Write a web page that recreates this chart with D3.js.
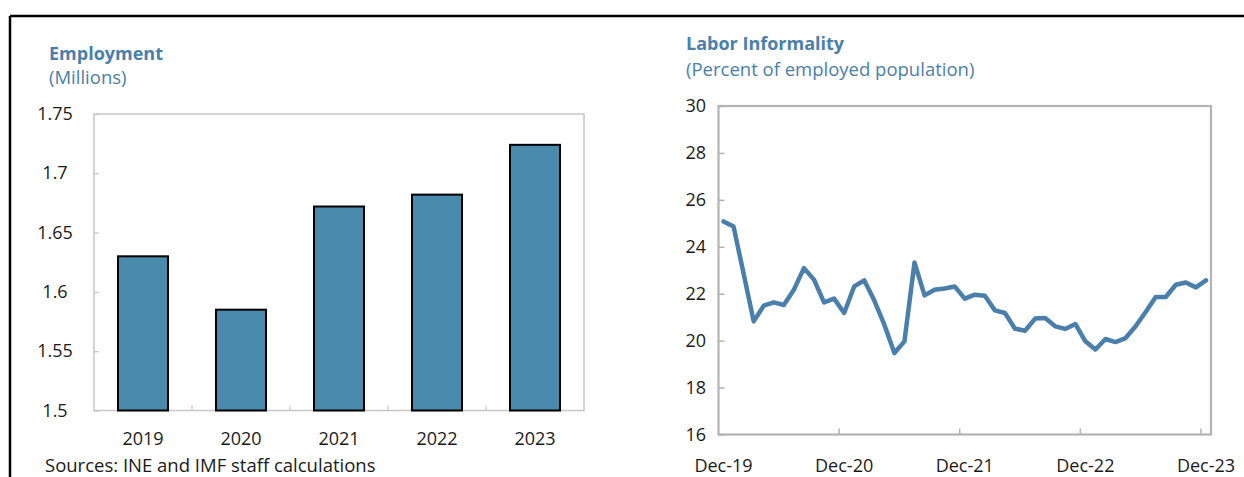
<!DOCTYPE html>
<html>
<head>
<meta charset="utf-8">
<script src="https://cdn.jsdelivr.net/npm/d3@7"></script>
<style>
  html, body { margin: 0; padding: 0; background: #fff; }
  svg { display: block; font-family: "Open Sans", "Noto Sans", sans-serif; }
</style>
</head>
<body>
<svg id="chart" width="1244" height="477"></svg>
<script>
// Employment (millions), annual
const years = ["2019", "2020", "2021", "2022", "2023"];
const employment = [1.630, 1.585, 1.672, 1.682, 1.724];
const employmentTicks = [1.5, 1.55, 1.6, 1.65, 1.7, 1.75];

// Labor informality (percent of employed population), monthly Dec-19 .. Dec-23
const months = d3.range(49).map(i => i);
const informality = [
  25.08, 24.86, 22.85, 20.82, 21.49, 21.63, 21.52, 22.17, 23.09, 22.60,
  21.63, 21.79, 21.18, 22.31, 22.57, 21.71, 20.68, 19.47, 19.97, 23.33,
  21.93, 22.17, 22.22, 22.31, 21.79, 21.96, 21.91, 21.29, 21.18, 20.51,
  20.42, 20.94, 20.96, 20.61, 20.50, 20.71, 19.97, 19.62, 20.07, 19.94,
  20.11, 20.61, 21.22, 21.86, 21.86, 22.38, 22.48, 22.27, 22.57
];
const informalityTicks = [16, 18, 20, 22, 24, 26, 28, 30];
const monthTickLabels = ["Dec-19", "Dec-20", "Dec-21", "Dec-22", "Dec-23"];

const svg = d3.select("#chart");
const titleColor = "#4a7fab";
const axisGray = "#c6c6c6";
const textColor = "#1a1a1a";
const tickFont = 18;
const textFont = 18.5;

// Outer frame: top and left rules
svg.append("line").attr("x1", 10).attr("x2", 1244).attr("y1", 16).attr("y2", 16)
  .attr("stroke", "#000").attr("stroke-width", 2.5);
svg.append("line").attr("x1", 10).attr("x2", 10).attr("y1", 16).attr("y2", 477)
  .attr("stroke", "#000").attr("stroke-width", 2.5);

// ---------- Employment bar chart ----------
const L = { left: 94, right: 584, top: 114, bottom: 410.5 };

svg.append("text").attr("x", 49).attr("y", 60).attr("fill", titleColor)
  .attr("font-size", 18).attr("font-weight", "bold").text("Employment");
svg.append("text").attr("x", 49).attr("y", 84).attr("fill", titleColor)
  .attr("font-size", textFont).text("(Millions)");

const xBand = d3.scaleBand().domain(years).range([L.left, L.right]).paddingInner(0).paddingOuter(0);
const yBar = d3.scaleLinear().domain([1.5, 1.75]).range([L.bottom, L.top]);

// plot frame
svg.append("rect").attr("x", L.left).attr("y", L.top)
  .attr("width", L.right - L.left).attr("height", L.bottom - L.top)
  .attr("fill", "none").attr("stroke", axisGray).attr("stroke-width", 1.5);

// y axis (ticks inward)
const yAxisL = svg.append("g").attr("transform", `translate(${L.left},0)`)
  .call(d3.axisRight(yBar).tickValues(employmentTicks).tickSize(5).tickFormat(""));
yAxisL.select(".domain").remove();
yAxisL.selectAll("line").attr("stroke", axisGray).attr("stroke-width", 1.2);

svg.append("g").selectAll("text").data(employmentTicks).join("text")
  .attr("x", 55).attr("y", d => yBar(d) + 6)
  .attr("text-anchor", "middle").attr("font-size", tickFont).attr("fill", textColor)
  .text(d => d3.format("")(d));

// x ticks at category boundaries (inward)
svg.append("g").selectAll("line").data(years.slice(1)).join("line")
  .attr("x1", d => xBand(d)).attr("x2", d => xBand(d))
  .attr("y1", L.bottom).attr("y2", L.bottom - 5)
  .attr("stroke", axisGray).attr("stroke-width", 1.2);

const barW = xBand.bandwidth() * 0.51;
svg.append("g").selectAll("rect").data(years).join("rect")
  .attr("x", d => xBand(d) + (xBand.bandwidth() - barW) / 2)
  .attr("y", (d, i) => yBar(employment[i]))
  .attr("width", barW)
  .attr("height", (d, i) => yBar(1.5) - yBar(employment[i]))
  .attr("fill", "#4a8aad").attr("stroke", "#000").attr("stroke-width", 2);

svg.append("g").selectAll("text").data(years).join("text")
  .attr("x", d => xBand(d) + xBand.bandwidth() / 2).attr("y", 445)
  .attr("text-anchor", "middle").attr("font-size", tickFont).attr("fill", textColor)
  .text(d => d);

svg.append("text").attr("x", 45).attr("y", 472).attr("font-size", textFont).attr("fill", textColor)
  .text("Sources: INE and IMF staff calculations");

// ---------- Labor informality line chart ----------
const R = { left: 718.5, right: 1211, top: 106, bottom: 434.5 };

svg.append("text").attr("x", 686).attr("y", 50).attr("fill", titleColor)
  .attr("font-size", 18).attr("font-weight", "bold").text("Labor Informality");
svg.append("text").attr("x", 686).attr("y", 76).attr("fill", titleColor)
  .attr("font-size", textFont).text("(Percent of employed population)");

const xMonth = d3.scaleBand().domain(months).range([R.left, R.right]).padding(0);
const yLine = d3.scaleLinear().domain([16, 30]).range([R.bottom, R.top]);

// plot frame
svg.append("rect").attr("x", R.left).attr("y", R.top)
  .attr("width", R.right - R.left).attr("height", R.bottom - R.top)
  .attr("fill", "none").attr("stroke", "#b3b3b3").attr("stroke-width", 2.2);

// y ticks inward
const yAxisR = svg.append("g").attr("transform", `translate(${R.left},0)`)
  .call(d3.axisRight(yLine).tickValues(informalityTicks).tickSize(6).tickFormat(""));
yAxisR.select(".domain").remove();
yAxisR.selectAll("line").attr("stroke", "#b3b3b3").attr("stroke-width", 1.5);

svg.append("g").selectAll("text").data(informalityTicks).join("text")
  .attr("x", 706).attr("y", d => yLine(d) + 6)
  .attr("text-anchor", "end").attr("font-size", tickFont).attr("fill", textColor)
  .text(d => d);

// x ticks every 12 months at category boundaries (inward)
const tickIdx = [12, 24, 36, 48];
svg.append("g").selectAll("line").data(tickIdx).join("line")
  .attr("x1", d => xMonth(d)).attr("x2", d => xMonth(d))
  .attr("y1", R.bottom).attr("y2", R.bottom - 6)
  .attr("stroke", "#b3b3b3").attr("stroke-width", 1.5);

svg.append("g").selectAll("text").data(monthTickLabels).join("text")
  .attr("x", (d, i) => xMonth(i * 12) + xMonth.bandwidth() / 2).attr("y", 472)
  .attr("text-anchor", "middle").attr("font-size", tickFont).attr("fill", textColor)
  .text(d => d);

const line = d3.line()
  .x((d, i) => xMonth(i) + xMonth.bandwidth() / 2)
  .y(d => yLine(d));

svg.append("path").datum(informality)
  .attr("d", line).attr("fill", "none")
  .attr("stroke", "#4a7fac").attr("stroke-width", 4.5)
  .attr("stroke-linejoin", "round").attr("stroke-linecap", "round");
</script>
</body>
</html>
